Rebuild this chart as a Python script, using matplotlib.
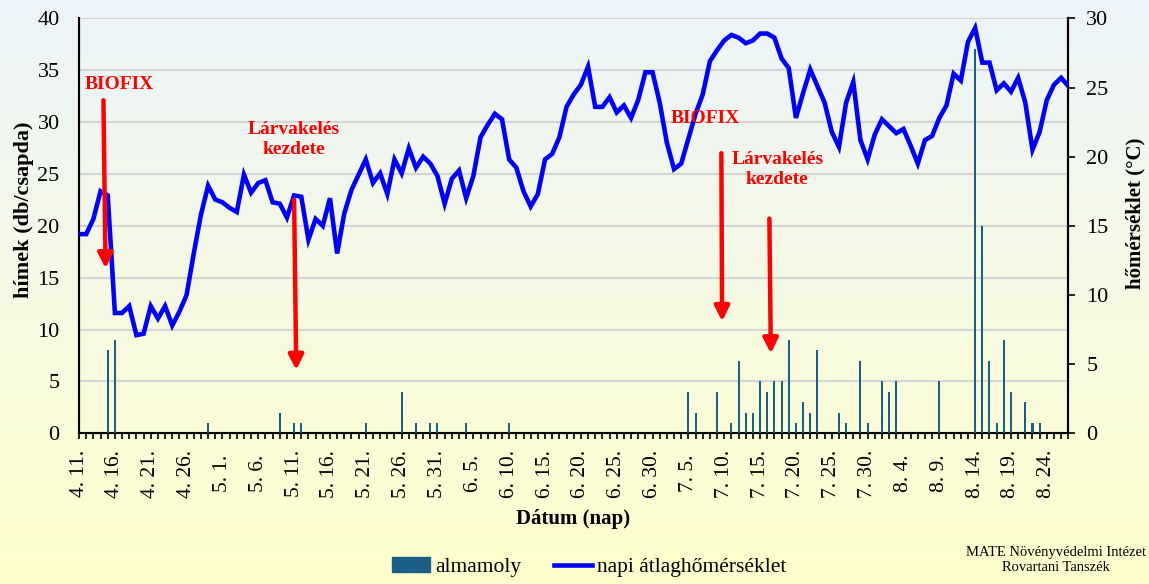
import numpy as np
import pandas as pd
import matplotlib
matplotlib.use("Agg")
import matplotlib.pyplot as plt
from matplotlib.patches import Patch
from matplotlib.lines import Line2D

# === DATA ===
days = pd.date_range("2023-04-11", "2023-08-27", freq="D")   # one category per day

# daily mean temperature (°C), right axis
temp_c = [
    14.4, 14.4, 15.5, 17.5, 17.2, 8.7, 8.7, 9.2, 7.1, 7.2,
    9.2, 8.3, 9.2, 7.8, 8.8, 10.0, 13.0, 15.8, 17.9, 16.9,
    16.7, 16.3, 16.0, 18.7, 17.4, 18.1, 18.3, 16.7, 16.6, 15.6,
    17.2, 17.1, 14.0, 15.5, 15.0, 17.0, 13.0, 15.9, 17.6, 18.7,
    19.8, 18.1, 18.8, 17.3, 19.8, 18.8, 20.6, 19.2, 20.0, 19.5,
    18.6, 16.6, 18.4, 19.0, 17.0, 18.6, 21.4, 22.3, 23.1, 22.7,
    19.8, 19.2, 17.5, 16.4, 17.3, 19.8, 20.2, 21.4, 23.6, 24.5,
    25.2, 26.5, 23.6, 23.6, 24.3, 23.2, 23.7, 22.8, 24.1, 26.1,
    26.1, 23.9, 21.0, 19.1, 19.5, 21.3, 23.1, 24.5, 26.9, 27.7,
    28.4, 28.8, 28.6, 28.2, 28.4, 28.9, 28.9, 28.6, 27.1, 26.4,
    22.8, 24.6, 26.3, 25.1, 23.9, 21.8, 20.7, 23.9, 25.4, 21.2,
    19.8, 21.6, 22.7, 22.2, 21.7, 22.0, 20.8, 19.5, 21.2, 21.5,
    22.8, 23.7, 26.0, 25.5, 28.3, 29.3, 26.8, 26.8, 24.8, 25.3,
    24.7, 25.7, 23.9, 20.5, 21.8, 24.1, 25.2, 25.7, 25.1,
]

# codling moth males per trap (only the days with catches)
trap_dates = [
    "04-15", "04-16", "04-29", "05-09", "05-11", "05-12", "05-21", "05-26",
    "05-28", "05-30", "05-31", "06-04", "06-10", "07-05", "07-06", "07-09",
    "07-11", "07-12", "07-13", "07-14", "07-15", "07-16", "07-17", "07-18",
    "07-19", "07-20", "07-21", "07-22", "07-23", "07-26", "07-27", "07-29",
    "07-30", "08-01", "08-02", "08-03", "08-09", "08-14", "08-15", "08-16",
    "08-17", "08-18", "08-19", "08-21", "08-22", "08-23",
]
trap_counts = [
    8, 9, 1, 2, 1, 1, 1, 4,
    1, 1, 1, 1, 1, 4, 2, 4,
    1, 7, 2, 2, 5, 4, 5, 5,
    9, 1, 3, 2, 8, 2, 1, 7,
    1, 5, 4, 5, 5, 37, 20, 7,
    1, 9, 4, 3, 1, 1,
]

tick_labels = [f"{d.month}. {d.day}." for d in days[::5]]

# === STYLE ===
BAR_COLOR = "#1B5F86"
LINE_COLOR = "#0000FF"
plt.rcParams["font.family"] = ["Liberation Serif", "DejaVu Serif"]

# === BUILD SERIES ON THE DAY AXIS ===
day_keys = list(days.strftime("%m-%d"))
x = np.arange(len(days))
catches = np.zeros(len(days))
for d, c in zip(trap_dates, trap_counts):
    catches[day_keys.index(d)] = c

# === FIGURE + GRADIENT BACKGROUND ===
fig = plt.figure(figsize=(11.49, 5.84), dpi=100)
bg = fig.add_axes([0, 0, 1, 1], zorder=-10)
top = np.array([0.925, 0.957, 0.980])
bottom = np.array([1.0, 1.0, 0.80])
t = np.linspace(0, 1, 256)[:, None]
grad = top[None, :] * (1 - t) + bottom[None, :] * t
bg.imshow(grad[:, None, :], aspect="auto", extent=[0, 1, 0, 1])
bg.axis("off")

ax = fig.add_axes([0.0688, 0.258, 0.861, 0.7106])
ax.set_facecolor("none")

# === BARS (left axis) ===
ax.bar(x, catches, width=0.28, color=BAR_COLOR, zorder=3)
ax.set_xlim(0, len(days) - 1)
ax.set_ylim(0, 40)
ax.set_yticks(range(0, 41, 5))
ax.yaxis.grid(True, color="#D4D4D4", lw=1.5, zorder=0)
ax.set_axisbelow(True)
ax.tick_params(axis="y", length=0, pad=14, labelsize=16)

ax.set_xticks(x[::5])
ax.set_xticklabels(tick_labels, rotation=90, va="center", fontsize=15.5)
ax.set_xticks(x, minor=True)
ax.tick_params(axis="x", which="both", length=4, width=1.2, direction="out", pad=25)

for s in ["left", "bottom", "right"]:
    ax.spines[s].set_linewidth(1.5)
ax.spines["top"].set_visible(False)

ax.set_ylabel("hímek (db/csapda)", fontsize=16, fontweight="bold")
ax.yaxis.set_label_coords(-0.046, 0.538)
ax.set_xlabel("Dátum (nap)", fontsize=15, fontweight="bold")
ax.xaxis.set_label_coords(0.4995, -0.182)

# === TEMPERATURE LINE (right axis) ===
ax2 = ax.twinx()
ax2.plot(x, temp_c, color=LINE_COLOR, lw=3.3, zorder=4, solid_joinstyle="miter")
ax2.set_ylim(0, 30)
ax2.set_yticks(range(0, 31, 5))
ax2.tick_params(axis="y", length=5, width=1.2, pad=8, labelsize=16)
ax2.spines["top"].set_visible(False)
ax2.spines["right"].set_linewidth(1.5)
ax2.set_ylabel("hőmérséklet (°C)", fontsize=15, fontweight="bold")
ax2.yaxis.set_label_coords(1.0577, 0.531)

# === ANNOTATIONS (in bar-axis coordinates, drawn on top) ===
red = "#FF0000"
txt = dict(color=red, fontsize=14, fontweight="bold", ha="center", va="center",
           transform=ax.transData, zorder=6)
ax2.text(5.6, 33.6, "BIOFIX", **txt)
ax2.text(30.0, 28.3, "Lárvakelés\nkezdete", linespacing=1.25, **txt)
ax2.text(87.3, 30.3, "BIOFIX", **txt)
ax2.text(97.4, 25.4, "Lárvakelés\nkezdete", linespacing=1.25, **txt)

arrow = dict(arrowstyle="-|>", color=red, lw=3.2, mutation_scale=22, shrinkA=0, shrinkB=0)
for x0, y0, x1, y1 in [(3.4, 32.1, 3.7, 15.9), (30.0, 22.5, 30.3, 6.1),
                       (89.6, 27.0, 89.7, 10.8), (96.3, 20.7, 96.5, 7.7)]:
    ax2.annotate("", xy=(x1, y1), xytext=(x0, y0), xycoords=ax.transData,
                 textcoords=ax.transData, arrowprops=arrow, zorder=6)

# === LEGEND ===
handles = [Patch(color=BAR_COLOR), Line2D([], [], color=LINE_COLOR, lw=3.3)]
fig.legend(handles, ["almamoly", "napi átlaghőmérséklet"], loc="center",
           bbox_to_anchor=(0.513, 0.029), ncol=2, frameon=False, fontsize=15.5,
           handlelength=1.75, handletextpad=0.25, columnspacing=1.5)

# === SOURCE NOTE ===
fig.text(0.997, 0.041, "MATE Növényvédelmi Intézet\nRovartani Tanszék",
         ha="right", va="center", fontsize=10.5, multialignment="center", linespacing=1.25)

fig.savefig("out.png", dpi=100)
